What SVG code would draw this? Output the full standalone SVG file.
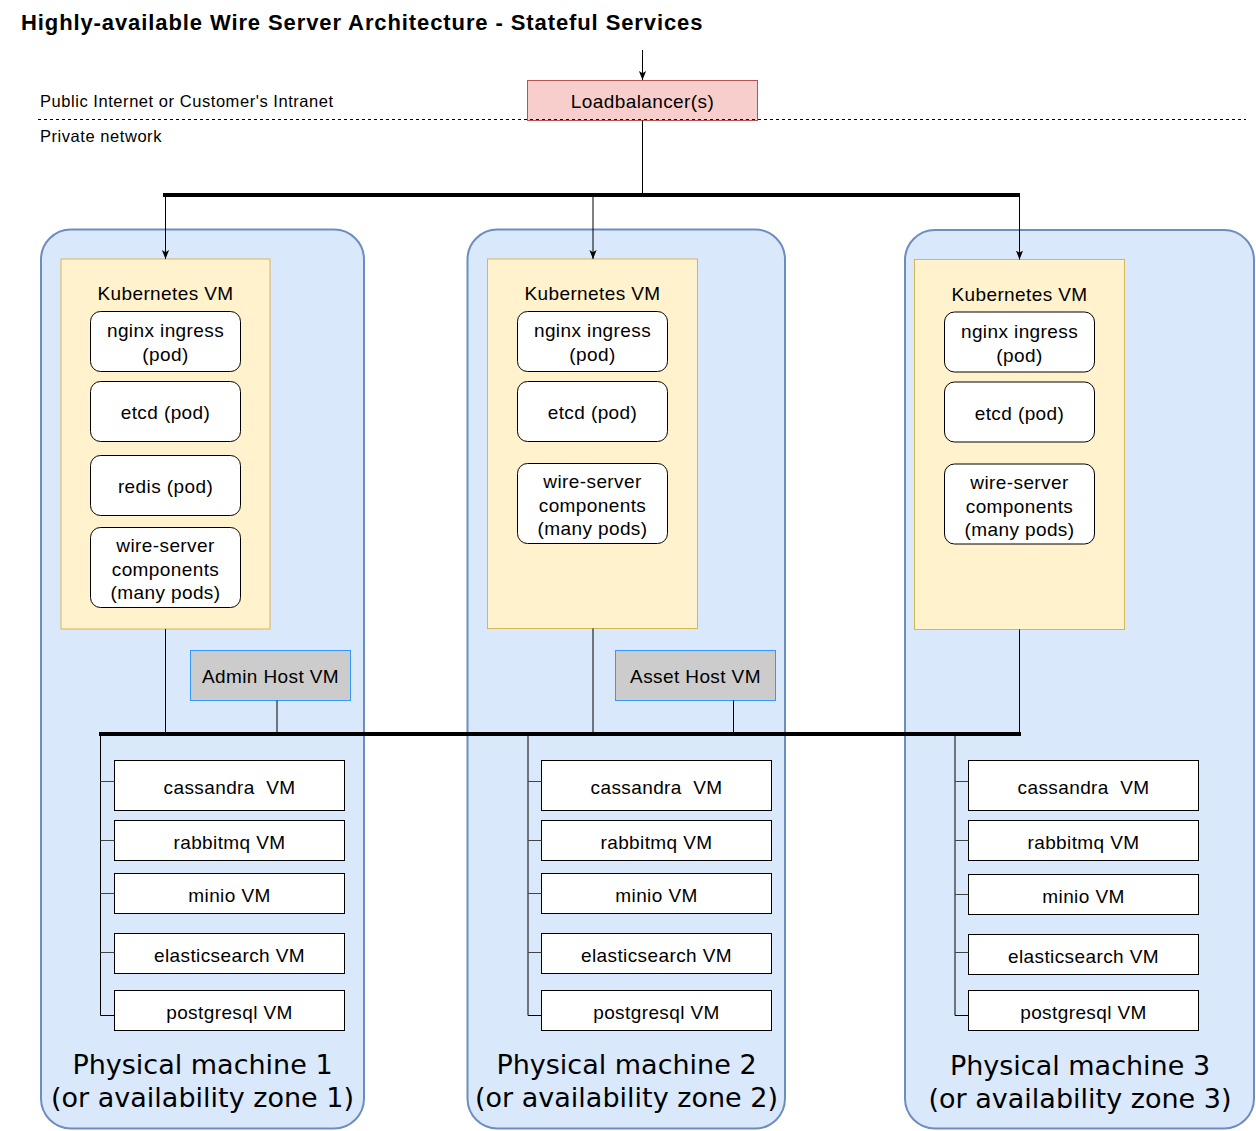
<svg xmlns="http://www.w3.org/2000/svg" width="1256" height="1131" viewBox="0 0 1256 1131">
<style>
.t{font-family:"Liberation Sans",Arial,Helvetica,sans-serif;font-size:19px;letter-spacing:0.4px;fill:#000;text-anchor:middle}
.s{font-family:"Liberation Sans",Arial,Helvetica,sans-serif;font-size:16.5px;letter-spacing:0.55px;fill:#000}
.title{font-family:"Liberation Sans",Arial,Helvetica,sans-serif;font-size:22px;font-weight:bold;letter-spacing:0.9px;fill:#000}
.pmt{font-family:"DejaVu Sans",Verdana,sans-serif;font-size:27px;fill:#000;text-anchor:middle}
.pm{fill:#dae8fc;stroke:#6c8ebf;stroke-width:2}
.k{fill:#fff2cc;stroke:#d6b656;stroke-width:1}
.pod{fill:#fff;stroke:#000;stroke-width:1}
.host{fill:#cccccc;stroke:#3399ff;stroke-width:1}
.vm{fill:#fff;stroke:#000;stroke-width:1}
.ln{fill:none;stroke:#000;stroke-width:1}
.br{fill:none;stroke:#444;stroke-width:1}
.bus{fill:none;stroke:#000;stroke-width:4}
</style>
<defs>
<marker id="arr" viewBox="0 0 10 10" refX="10" refY="5" markerWidth="9" markerHeight="9" markerUnits="userSpaceOnUse" orient="auto">
<path d="M0,1 L10,5 L0,9 L2.5,5 Z" fill="#000"/>
</marker>
</defs>
<rect width="1256" height="1131" fill="#fff"/>
<text class="title" x="21" y="30">Highly-available Wire Server Architecture - Stateful Services</text>
<g id="pm1"><rect class="pm" x="41" y="229.5" width="323" height="899" rx="30"/>
<text class="pmt" x="202.5" y="1074">Physical machine 1</text>
<text class="pmt" x="202.5" y="1107">(or availability zone 1)</text></g>
<g id="pm2"><rect class="pm" x="467.5" y="229.5" width="317.5" height="899" rx="30"/>
<text class="pmt" x="626.5" y="1074">Physical machine 2</text>
<text class="pmt" x="626.5" y="1107">(or availability zone 2)</text></g>
<g id="pm3"><rect class="pm" x="905" y="230" width="349" height="898.5" rx="30"/>
<text class="pmt" x="1080" y="1075">Physical machine 3</text>
<text class="pmt" x="1080" y="1108">(or availability zone 3)</text></g>
<g id="k1"><rect class="k" x="61" y="259" width="209" height="370"/><text class="t" x="165.5" y="300">Kubernetes VM</text></g>
<g id="k2"><rect class="k" x="487.5" y="259" width="210" height="369.5"/><text class="t" x="592.5" y="300">Kubernetes VM</text></g>
<g id="k3"><rect class="k" x="914.5" y="259.5" width="210" height="370"/><text class="t" x="1019.5" y="301">Kubernetes VM</text></g>
<g id="p1-nginx"><rect class="pod" x="90.5" y="311.5" width="150" height="60" rx="10"/><text class="t" x="165.5" y="337">nginx ingress</text><text class="t" x="165.5" y="361">(pod)</text></g>
<g id="p1-etcd"><rect class="pod" x="90.5" y="381.5" width="150" height="60" rx="10"/><text class="t" x="165.5" y="419">etcd (pod)</text></g>
<g id="p1-redis"><rect class="pod" x="90.5" y="455.5" width="150" height="60" rx="10"/><text class="t" x="165.5" y="493">redis (pod)</text></g>
<g id="p1-wire"><rect class="pod" x="90.5" y="527.5" width="150" height="80" rx="10"/><text class="t" x="165.5" y="552">wire-server</text><text class="t" x="165.5" y="575.5">components</text><text class="t" x="165.5" y="599">(many pods)</text></g>
<g id="p2-nginx"><rect class="pod" x="517.5" y="311.5" width="150" height="60" rx="10"/><text class="t" x="592.5" y="337">nginx ingress</text><text class="t" x="592.5" y="361">(pod)</text></g>
<g id="p2-etcd"><rect class="pod" x="517.5" y="381.5" width="150" height="60" rx="10"/><text class="t" x="592.5" y="419">etcd (pod)</text></g>
<g id="p2-wire"><rect class="pod" x="517.5" y="463.5" width="150" height="80" rx="10"/><text class="t" x="592.5" y="488">wire-server</text><text class="t" x="592.5" y="511.5">components</text><text class="t" x="592.5" y="535">(many pods)</text></g>
<g id="p3-nginx"><rect class="pod" x="944.5" y="312" width="150" height="60" rx="10"/><text class="t" x="1019.5" y="338">nginx ingress</text><text class="t" x="1019.5" y="362">(pod)</text></g>
<g id="p3-etcd"><rect class="pod" x="944.5" y="382" width="150" height="60" rx="10"/><text class="t" x="1019.5" y="420">etcd (pod)</text></g>
<g id="p3-wire"><rect class="pod" x="944.5" y="464" width="150" height="80" rx="10"/><text class="t" x="1019.5" y="489">wire-server</text><text class="t" x="1019.5" y="512.5">components</text><text class="t" x="1019.5" y="536">(many pods)</text></g>
<g id="admin"><rect class="host" x="190.5" y="650.5" width="160" height="50"/><text class="t" x="270.5" y="683">Admin Host VM</text></g>
<g id="asset"><rect class="host" x="615.5" y="650.5" width="160" height="50"/><text class="t" x="695.5" y="683">Asset Host VM</text></g>
<g id="vms1">
<rect class="vm" x="114.5" y="760.5" width="230" height="50"/><text class="t" x="229.5" y="794">cassandra&#160; VM</text>
<rect class="vm" x="114.5" y="820.5" width="230" height="40"/><text class="t" x="229.5" y="848.5">rabbitmq VM</text>
<rect class="vm" x="114.5" y="873.5" width="230" height="40"/><text class="t" x="229.5" y="902">minio VM</text>
<rect class="vm" x="114.5" y="933.5" width="230" height="40"/><text class="t" x="229.5" y="962">elasticsearch VM</text>
<rect class="vm" x="114.5" y="990.5" width="230" height="40"/><text class="t" x="229.5" y="1018.5">postgresql VM</text>
</g>
<g id="vms2">
<rect class="vm" x="541.5" y="760.5" width="230" height="50"/><text class="t" x="656.5" y="794">cassandra&#160; VM</text>
<rect class="vm" x="541.5" y="820.5" width="230" height="40"/><text class="t" x="656.5" y="848.5">rabbitmq VM</text>
<rect class="vm" x="541.5" y="873.5" width="230" height="40"/><text class="t" x="656.5" y="902">minio VM</text>
<rect class="vm" x="541.5" y="933.5" width="230" height="40"/><text class="t" x="656.5" y="962">elasticsearch VM</text>
<rect class="vm" x="541.5" y="990.5" width="230" height="40"/><text class="t" x="656.5" y="1018.5">postgresql VM</text>
</g>
<g id="vms3">
<rect class="vm" x="968.5" y="760.5" width="230" height="50"/><text class="t" x="1083.5" y="794">cassandra&#160; VM</text>
<rect class="vm" x="968.5" y="820.5" width="230" height="40"/><text class="t" x="1083.5" y="848.5">rabbitmq VM</text>
<rect class="vm" x="968.5" y="874.5" width="230" height="40"/><text class="t" x="1083.5" y="903">minio VM</text>
<rect class="vm" x="968.5" y="934.5" width="230" height="40"/><text class="t" x="1083.5" y="963">elasticsearch VM</text>
<rect class="vm" x="968.5" y="990.5" width="230" height="40"/><text class="t" x="1083.5" y="1018.5">postgresql VM</text>
</g>
<g id="lb"><rect x="527.5" y="80.5" width="230" height="40" fill="#f8cecc" stroke="#b85450"/><text class="t" x="642.5" y="108">Loadbalancer(s)</text></g>
<g id="zones">
<text class="s" x="40" y="107">Public Internet or Customer's Intranet</text>
<text class="s" x="40" y="142">Private network</text>
</g>
<g id="connectors">
<line x1="38" y1="119.5" x2="1246" y2="119.5" stroke="#000" stroke-width="1" stroke-dasharray="3,3"/>
<line class="ln" x1="642.5" y1="50" x2="642.5" y2="80" marker-end="url(#arr)"/>
<line class="ln" x1="642.5" y1="120.5" x2="642.5" y2="194"/>
<line class="bus" x1="163" y1="195" x2="1020" y2="195"/>
<line class="ln" x1="165.5" y1="197" x2="165.5" y2="259" marker-end="url(#arr)"/>
<line class="ln" x1="593" y1="197" x2="593" y2="259" marker-end="url(#arr)"/>
<line class="ln" x1="1019.5" y1="197" x2="1019.5" y2="259.5" marker-end="url(#arr)"/>
<line class="ln" x1="165.5" y1="629" x2="165.5" y2="733"/>
<line class="ln" x1="277" y1="700.5" x2="277" y2="733"/>
<line class="ln" x1="593" y1="628.5" x2="593" y2="733"/>
<line class="ln" x1="733.5" y1="700.5" x2="733.5" y2="733"/>
<line class="ln" x1="1019.5" y1="629.5" x2="1019.5" y2="733"/>
<line class="bus" x1="99" y1="734" x2="1021" y2="734"/>
<path class="ln" d="M100.5,736 V1015.5 H114.5"/>
<path class="br" d="M100.5,781.5 H114.5 M100.5,840.5 H114.5 M100.5,893.5 H114.5 M100.5,952.5 H114.5"/>
<path class="ln" d="M528,736 V1015.5 H541.5"/>
<path class="br" d="M528,781.5 H541.5 M528,840.5 H541.5 M528,893.5 H541.5 M528,952.5 H541.5"/>
<path class="ln" d="M955,736 V1015.5 H968.5"/>
<path class="br" d="M955,781.5 H968.5 M955,840.5 H968.5 M955,894.5 H968.5 M955,952.5 H968.5"/>
</g>
</svg>
